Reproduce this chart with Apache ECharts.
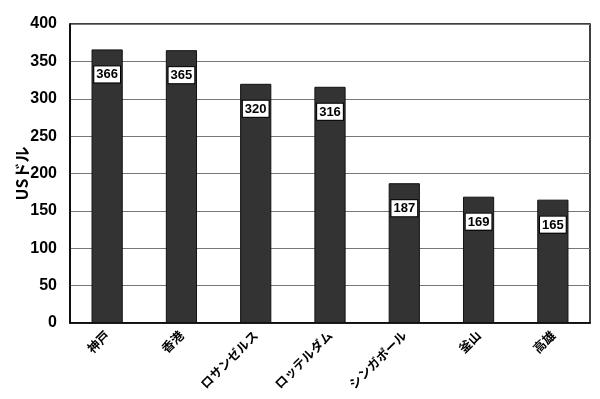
<!DOCTYPE html>
<html><head><meta charset="utf-8">
<script src="https://cdn.jsdelivr.net/npm/echarts@6/dist/echarts.min.js"></script>
<style>html,body{margin:0;padding:0;background:#fff}#c{width:600px;height:399px}</style>
</head><body><div id="c"></div>
<script>
var categories = ['神戸','香港','ロサンゼルス','ロッテルダム','シンガポール','釜山','高雄'];
var values = [366,365,320,316,187,169,165];
var yTicks = [0,50,100,150,200,250,300,350,400];
var chart = echarts.init(document.getElementById('c'));
chart.setOption({
  animation:false,
  backgroundColor:'#fff',
  grid:{left:70,right:10,top:24,bottom:76,show:true,borderColor:'#000',borderWidth:1.5,backgroundColor:'transparent',
    containLabel:false,outerBoundsMode:'none'},
  xAxis:{type:'category',data:categories,
    axisLine:{lineStyle:{color:'#000',width:1.5}},axisTick:{show:false},
    axisLabel:{rotate:45,interval:0,margin:10,color:'#000',fontSize:12.5,fontWeight:'bold',fontFamily:'Noto Sans CJK JP'}},
  yAxis:{type:'value',min:yTicks[0],max:yTicks[yTicks.length-1],interval:50,
    name:'USドル',nameLocation:'middle',nameGap:40,nameRotate:90,nameMoveOverlap:false,
    nameTextStyle:{color:'#000',fontSize:16,fontWeight:'bold',fontFamily:'Noto Sans CJK JP'},
    axisLine:{show:true,lineStyle:{color:'#000',width:1.5}},axisTick:{show:false},
    axisLabel:{color:'#000',fontSize:16,fontWeight:'bold',fontFamily:'Liberation Sans',margin:13},
    splitLine:{lineStyle:{color:'#777',width:1}}},
  series:[{type:'bar',data:values,barWidth:'42%',
    itemStyle:{color:'#333',borderColor:'#111',borderWidth:1},
    label:{show:true,position:'insideTop',distance:17,color:'#000',fontSize:13,fontWeight:'bold',
      fontFamily:'Liberation Sans',backgroundColor:'#fff',borderColor:'#000',borderWidth:1,padding:[2,2,1,2]}}]
});
</script></body></html>
